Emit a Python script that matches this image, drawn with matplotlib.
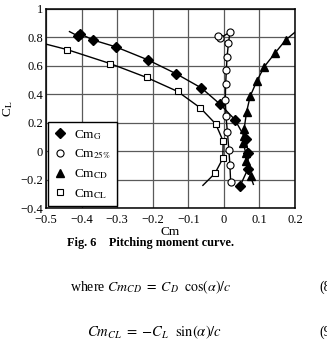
import numpy as np
import matplotlib
matplotlib.use("Agg")
import matplotlib.pyplot as plt

plt.rcParams['font.family'] = ['Liberation Serif', 'DejaVu Serif']
plt.rcParams['mathtext.fontset'] = 'stix'

# Cm_G (filled diamonds)
cmg_x = [-0.411, -0.404, -0.369, -0.304, -0.214, -0.134, -0.063, -0.010, 0.031, 0.061, 0.069, 0.067, 0.045]
cmg_y = [0.808, 0.824, 0.780, 0.731, 0.640, 0.542, 0.442, 0.327, 0.220, 0.085, -0.013, -0.129, -0.248]
cmg_start = (-0.434, 0.838)

# Cm_25% (open circles)
c25_x = [0.019, 0.017, 0.014, 0.010, 0.006, 0.004, 0.005, 0.007, 0.009, 0.013, 0.017, -0.011, -0.017]
c25_y = [-0.215, -0.101, 0.010, 0.131, 0.243, 0.360, 0.470, 0.568, 0.663, 0.757, 0.834, 0.792, 0.810]

# Cm_CD (filled triangles)
ccd_x = [0.075, 0.062, 0.061, 0.055, 0.056, 0.057, 0.064, 0.074, 0.093, 0.114, 0.145, 0.174]
ccd_y = [-0.178, -0.073, -0.013, 0.057, 0.108, 0.157, 0.276, 0.385, 0.493, 0.593, 0.691, 0.780]
ccd_start = (0.083, -0.234)
ccd_end = (0.200, 0.834)

# Cm_CL (open squares)
ccl_x = [-0.441, -0.320, -0.217, -0.130, -0.066, -0.023, -0.002, -0.003, -0.025]
ccl_y = [0.712, 0.614, 0.516, 0.418, 0.302, 0.190, 0.069, -0.052, -0.157]
ccl_start = (-0.500, 0.750)
ccl_end = (-0.059, -0.241)

xticks = [-0.5, -0.4, -0.3, -0.2, -0.1, 0, 0.1, 0.2]
xlabels = ['\u22120.5', '\u22120.4', '\u22120.3', '\u22120.2', '\u22120.1', '0', '0.1', '0.2']
yticks = [-0.4, -0.2, 0, 0.2, 0.4, 0.6, 0.8, 1.0]
ylabels = ['\u22120.4', '\u22120.2', '0', '0.2', '0.4', '0.6', '0.8', '1']

fig = plt.figure(figsize=(3.27, 3.49), dpi=100)
ax = fig.add_axes([0.1407, 0.404, 0.7615, 0.5716])

lw = 1.0
# fitted curves
ax.plot([cmg_start[0]] + cmg_x, [cmg_start[1]] + cmg_y, color='black', lw=lw, zorder=3)
ax.plot(c25_x, c25_y, color='black', lw=lw, zorder=3)
ax.plot([ccd_start[0]] + ccd_x + [ccd_end[0]], [ccd_start[1]] + ccd_y + [ccd_end[1]],
        color='black', lw=lw, zorder=3)
ax.plot([ccl_start[0]] + ccl_x + [ccl_end[0]], [ccl_start[1]] + ccl_y + [ccl_end[1]],
        color='black', lw=lw, zorder=3)

# markers
ms = 4.8
ax.plot(cmg_x, cmg_y, 'D', color='black', ms=ms, ls='none', zorder=4, label=r'Cm$_{\mathrm{G}}$')
ax.plot(c25_x, c25_y, 'o', mfc='white', mec='black', mew=0.8, ms=ms + 0.3, ls='none', zorder=4,
        label=r'Cm$_{\mathrm{25\%}}$')
ax.plot(ccd_x, ccd_y, '^', color='black', ms=ms + 0.5, ls='none', zorder=4, label=r'Cm$_{\mathrm{CD}}$')
ax.plot(ccl_x, ccl_y, 's', mfc='white', mec='black', mew=0.8, ms=ms - 0.3, ls='none', zorder=4,
        label=r'Cm$_{\mathrm{CL}}$')

ax.set_xlim(-0.5, 0.2)
ax.set_ylim(-0.4, 1.0)
ax.set_xticks(xticks)
ax.set_xticklabels(xlabels)
ax.set_yticks(yticks)
ax.set_yticklabels(ylabels)
ax.tick_params(length=0, labelsize=9, pad=2)
ax.tick_params(axis='x', pad=4)
ax.grid(True, color='#5a5a5a', lw=0.9)
ax.set_axisbelow(True)
for s in ax.spines.values():
    s.set_linewidth(1.1)

ax.set_xlabel('Cm', fontsize=9.5, labelpad=0)
ax.set_ylabel(r'C$_{\mathrm{L}}$', fontsize=9.5, labelpad=4)

leg = ax.legend(loc='lower left', fontsize=9.5, frameon=True, fancybox=False,
                edgecolor='black', framealpha=1, handlelength=1.0, handletextpad=0.6,
                borderpad=0.4, labelspacing=0.45, borderaxespad=0.15)
leg.get_frame().set_linewidth(1.0)

fig.text(0.459, 0.303, 'Fig. 6    Pitching moment curve.', fontsize=8.8, fontweight='bold',
         ha='center', va='center')
fig.text(0.214, 0.178, r'where $Cm_{CD}\ =\ C_D\ \ \cos(\alpha)/c$', fontsize=10, ha='left', va='center')
fig.text(0.976, 0.178, '(8', fontsize=10, ha='left', va='center')
fig.text(0.266, 0.049, r'$Cm_{CL}\ =\ {-C_L}\ \ \sin(\alpha)/c$', fontsize=10.5, ha='left', va='center')
fig.text(0.976, 0.049, '(9', fontsize=10, ha='left', va='center')

fig.savefig('out.png', dpi=100)
